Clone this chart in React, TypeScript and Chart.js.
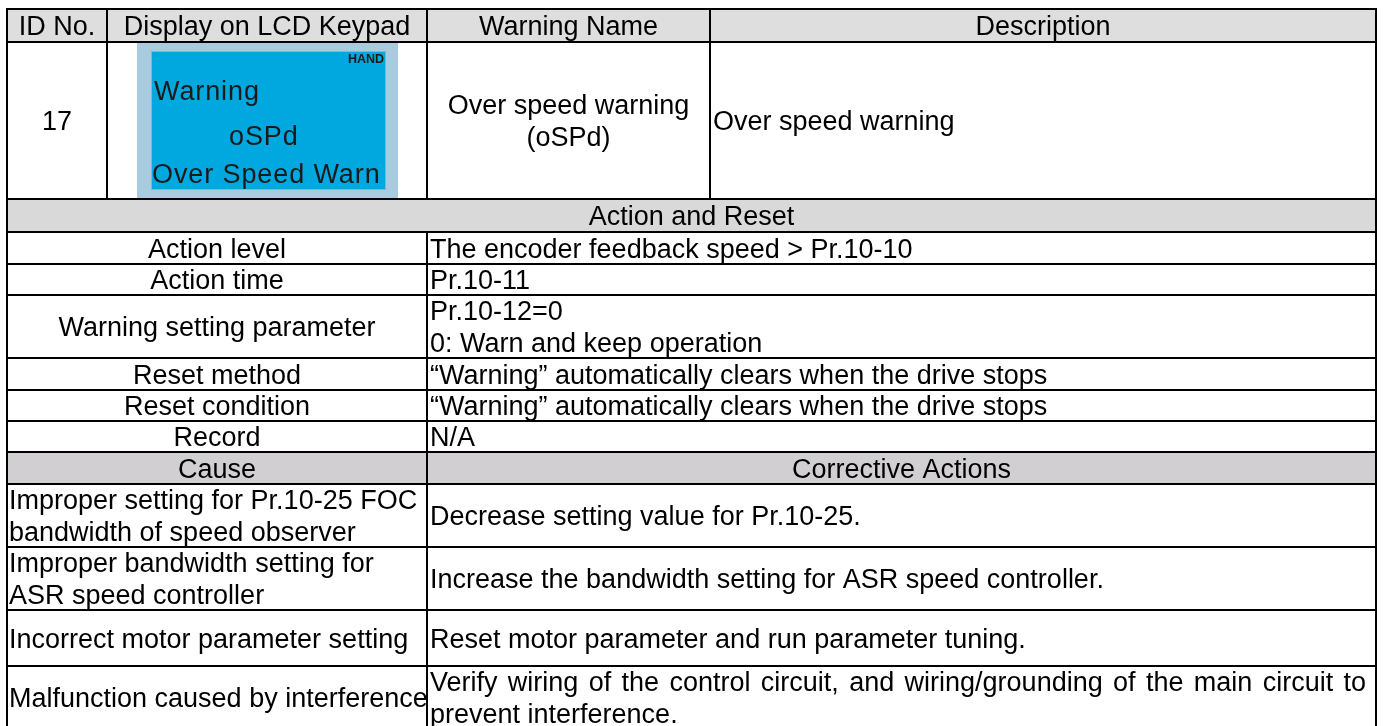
import React, { useEffect, useRef } from "react";
import { Chart, registerables } from "chart.js";

Chart.register(...registerables);

// ---------- table content ----------
const HEADERS = ["ID No.", "Display on LCD Keypad", "Warning Name", "Description"];
const WARNING_ID = "17";
const LCD_MODE = "HAND";
const LCD_LINES = ["Warning", "oSPd", "Over Speed Warn"];
const WARNING_NAME = ["Over speed warning", "(oSPd)"];
const DESCRIPTION = ["Over speed warning"];
const SECTION_ACTION = "Action and Reset";
const ACTION_LABELS = [
  "Action level",
  "Action time",
  "Warning setting parameter",
  "Reset method",
  "Reset condition",
  "Record",
];
const ACTION_VALUES = [
  ["The encoder feedback speed > Pr.10-10"],
  ["Pr.10-11"],
  ["Pr.10-12=0", "0: Warn and keep operation"],
  ["\u201cWarning\u201d automatically clears when the drive stops"],
  ["\u201cWarning\u201d automatically clears when the drive stops"],
  ["N/A"],
];
const CAUSE_HEADERS = ["Cause", "Corrective Actions"];
const CAUSES = [
  ["Improper setting for Pr.10-25 FOC", "bandwidth of speed observer"],
  ["Improper bandwidth setting for", "ASR speed controller"],
  ["Incorrect motor parameter setting"],
  ["Malfunction caused by interference"],
];
const CORRECTIVE = [
  ["Decrease setting value for Pr.10-25."],
  ["Increase the bandwidth setting for ASR speed controller."],
  ["Reset motor parameter and run parameter tuning."],
  ["Verify wiring of the control circuit, and wiring/grounding of the main circuit to", "prevent interference."],
];

// ---------- layout (table units) ----------
const LAYOUT = {
  colEdges: [0, 100, 420, 703, 1369],
  rowHeights: [33, 157, 33, 32, 31, 63, 32, 31, 31, 32, 63, 63, 56, 63],
  lineH: 31.5,
  font: '27px "Liberation Sans", Arial, Helvetica, sans-serif',
  fontPx: 27,
  lineW: 2,
  padL: 3,
  headerFill: "#DEDEDE",
  sectionFill: "#D9D9D9",
  causeFill: "#D1CFD2",
  lcdOuter: "#A9CBE0",
  lcdInner: "#00A8E0",
  lcdBorder: "#A7A2D6",
  lcdText: "#1A1A1A",
};

const tablePlugin = {
  id: "tableDraw",
  beforeDraw(chart: any) {
    const ctx = chart.ctx as CanvasRenderingContext2D;
    ctx.save();
    ctx.fillStyle = "#ffffff";
    ctx.fillRect(0, 0, chart.width, chart.height);
    ctx.restore();
  },
  afterDraw(chart: any) {
    const ctx = chart.ctx as CanvasRenderingContext2D;
    const xs = chart.scales.x;
    const ys = chart.scales.y;
    const X = (v: number) => xs.getPixelForValue(v);
    const Y = (v: number) => ys.getPixelForValue(v);
    const C = LAYOUT.colEdges;
    const R: number[] = [0];
    LAYOUT.rowHeights.forEach((h) => R.push(R[R.length - 1] + h));
    const left = C[0];
    const right = C[C.length - 1];
    const mid = C[2];

    ctx.save();
    // fills
    const fillRow = (r: number, color: string) => {
      ctx.fillStyle = color;
      ctx.fillRect(X(left), Y(R[r]), X(right) - X(left), Y(R[r + 1]) - Y(R[r]));
    };
    fillRow(0, LAYOUT.headerFill);
    fillRow(2, LAYOUT.sectionFill);
    fillRow(9, LAYOUT.causeFill);

    // LCD keypad picture
    const lcdX0 = 130, lcdX1 = 391;
    ctx.fillStyle = LAYOUT.lcdOuter;
    ctx.fillRect(X(lcdX0), Y(R[1]), X(lcdX1) - X(lcdX0), Y(R[2]) - Y(R[1]));
    ctx.fillStyle = LAYOUT.lcdInner;
    ctx.fillRect(X(144), Y(42), X(379) - X(144), Y(181) - Y(42));
    ctx.strokeStyle = LAYOUT.lcdBorder;
    ctx.lineWidth = 1;
    ctx.strokeRect(X(144) + 0.5, Y(42) + 0.5, X(379) - X(144) - 1, Y(181) - Y(42) - 1);
    ctx.fillStyle = LAYOUT.lcdText;
    ctx.textBaseline = "alphabetic";
    ctx.font = 'bold 12.5px "Liberation Sans", Arial, sans-serif';
    ctx.textAlign = "right";
    ctx.fillText(LCD_MODE, X(377), Y(54));
    ctx.textAlign = "left";
    ctx.font = '27px "Liberation Sans", Arial, sans-serif';
    (ctx as any).letterSpacing = "0.9px";
    ctx.fillText(LCD_LINES[0], X(147), Y(91));
    ctx.fillText(LCD_LINES[1], X(222), Y(136));
    ctx.fillText(LCD_LINES[2], X(145), Y(174));
    (ctx as any).letterSpacing = "0px";

    // text helpers
    ctx.fillStyle = "#000000";
    ctx.font = LAYOUT.font;
    const base = LAYOUT.fontPx * 0.357;
    const drawLines = (
      lines: string[],
      align: "left" | "center",
      x0: number,
      x1: number,
      r: number,
      justifyFirst = false
    ) => {
      const yc = (R[r] + R[r + 1]) / 2;
      const n = lines.length;
      lines.forEach((line, i) => {
        const cy = yc + (i - (n - 1) / 2) * LAYOUT.lineH;
        const py = Y(cy) + base;
        if (align === "center") {
          ctx.textAlign = "center";
          ctx.fillText(line, (X(x0) + X(x1)) / 2, py);
        } else if (justifyFirst && i === 0 && n > 1) {
          ctx.textAlign = "left";
          const words = line.split(" ");
          const widths = words.map((w) => ctx.measureText(w).width);
          const sum = widths.reduce((a, b) => a + b, 0);
          const avail = X(x1) - 10 - (X(x0) + LAYOUT.padL);
          const gap = (avail - sum) / (words.length - 1);
          let cx = X(x0) + LAYOUT.padL;
          words.forEach((w, k) => {
            ctx.fillText(w, cx, py);
            cx += widths[k] + gap;
          });
        } else {
          ctx.textAlign = "left";
          ctx.fillText(line, X(x0) + LAYOUT.padL, py);
        }
      });
    };

    // header row
    HEADERS.forEach((h, i) => drawLines([h], "center", C[i], C[i + 1], 0));
    // warning row
    drawLines([WARNING_ID], "center", C[0], C[1], 1);
    drawLines(WARNING_NAME, "center", C[2], C[3], 1);
    drawLines(DESCRIPTION, "left", C[3], C[4], 1);
    // action section
    drawLines([SECTION_ACTION], "center", left, right, 2);
    ACTION_LABELS.forEach((lab, i) => {
      drawLines([lab], "center", left, mid, 3 + i);
      drawLines(ACTION_VALUES[i], "left", mid, right, 3 + i);
    });
    // cause section
    drawLines([CAUSE_HEADERS[0]], "center", left, mid, 9);
    drawLines([CAUSE_HEADERS[1]], "center", mid, right, 9);
    CAUSES.forEach((c, i) => {
      drawLines(c, "left", left - 1, mid, 10 + i);
      drawLines(CORRECTIVE[i], "left", mid, right, 10 + i, true);
    });

    // grid lines
    ctx.fillStyle = "#000000";
    const lw = LAYOUT.lineW;
    const hLine = (y: number, x0: number, x1: number) => {
      const py = Math.round(Y(y));
      ctx.fillRect(Math.round(X(x0)) - 1, py - 1, Math.round(X(x1)) - Math.round(X(x0)) + lw, lw);
    };
    const vLine = (x: number, y0: number, y1: number) => {
      const px = Math.round(X(x));
      ctx.fillRect(px - 1, Math.round(Y(y0)) - 1, lw, Math.round(Y(y1)) - Math.round(Y(y0)) + lw);
    };
    R.forEach((y) => hLine(y, left, right));
    vLine(left, R[0], R[R.length - 1]);
    vLine(right, R[0], R[R.length - 1]);
    vLine(C[1], R[0], R[2]);
    vLine(C[3], R[0], R[2]);
    vLine(mid, R[0], R[2]);
    vLine(mid, R[3], R[R.length - 1]);
    ctx.restore();
  },
};

export default function App() {
  const ref = useRef<HTMLCanvasElement>(null);
  useEffect(() => {
    const canvas = ref.current;
    if (!canvas) return;
    const chart = new Chart(canvas, {
      type: "scatter",
      data: { datasets: [] },
      options: {
        animation: false,
        responsive: false,
        maintainAspectRatio: false,
        devicePixelRatio: 1,
        events: [],
        layout: { padding: 0 },
        plugins: {
          legend: { display: false },
          tooltip: { enabled: false },
          title: { display: false },
        },
        scales: {
          x: { type: "linear", min: -7, max: 1379, display: false },
          y: { type: "linear", min: -9, max: 717, reverse: true, display: false },
        },
      },
      plugins: [tablePlugin],
    } as any);
    return () => chart.destroy();
  }, []);
  return (
    <div style={{ position: "absolute", left: 0, top: 0, width: 1386, height: 726, background: "#fff", overflow: "hidden" }}>
      <canvas ref={ref} width={1386} height={726} style={{ display: "block", width: 1386, height: 726 }} />
    </div>
  );
}
